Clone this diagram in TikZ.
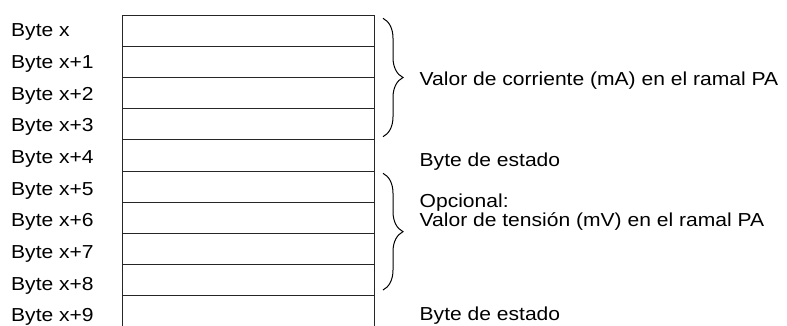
\documentclass[tikz,border=0pt]{standalone}
\usepackage{fontspec}
\setmainfont[FakeStretch=1.12]{Liberation Sans}
\usetikzlibrary{decorations.pathreplacing}
\begin{document}
\begin{tikzpicture}[x=1pt,y=-1pt,
  rowbox/.style={draw=black!85,line width=0.9pt,minimum width=252pt,minimum height=31.1pt,inner sep=0pt,anchor=north west},
  lbl/.style={anchor=base west,inner sep=0pt,font=\fontsize{18.8}{15}\selectfont},
  bracestyle/.style={draw=black,line width=1pt,decorate,decoration={brace,amplitude=20pt}}]
\useasboundingbox (0,0) rectangle (787,325);
% rows
\foreach \i in {0,...,8}{
  \node[rowbox] (r\i) at (122.3,{15+31.1*\i}) {};
}
\coordinate (r9tl) at (122.3,294.9);
\coordinate (r9tr) at (374.3,294.9);
\coordinate (r9bl) at (122.3,326);
\coordinate (r9br) at (374.3,326);
\draw[draw=black!85,line width=0.9pt] (r9tl) -- (r9bl) (r9tr) -- (r9br);
% left labels
\node[lbl] (l0) at (11,36.7) {Byte x};
\foreach \i in {1,...,9}{
  \node[lbl] (l\i) at (11,{36.7+31.67*\i}) {Byte x+\i};
}
% braces
\coordinate (b1t) at (383,18.3);
\coordinate (b1b) at (383,136.7);
\coordinate (b2t) at (383,173.3);
\coordinate (b2b) at (383,290);
\draw[bracestyle] (b1t) -- (b1b);
\draw[bracestyle] (b2t) -- (b2b);
% right labels
\node[lbl] (t1) at (419.5,85) {Valor de corriente (mA) en el ramal PA};
\node[lbl] (t2) at (419.5,166) {Byte de estado};
\node[lbl,align=left] (t3) at (419.5,226.7) {Opcional:\\Valor de tensión (mV) en el ramal PA};
\node[lbl] (t4) at (419.5,320) {Byte de estado};
\end{tikzpicture}
\end{document}
